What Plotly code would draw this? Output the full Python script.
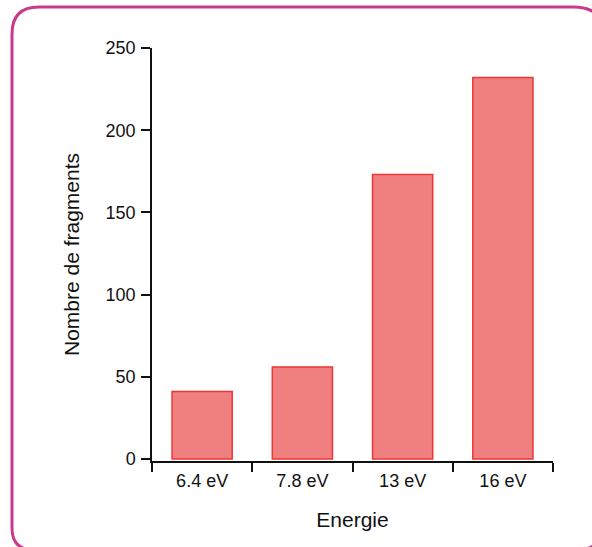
import plotly.graph_objects as go

categories = ["6.4 eV", "7.8 eV", "13 eV", "16 eV"]
fragments = [41, 56, 173, 232]
y_ticks = [0, 50, 100, 150, 200, 250]
x_title = "Energie"
y_title = "Nombre de fragments"

W, H = 592, 547
ML, MR, MT, MB = 152, 39, 48, 86
PW, PH = W - ML - MR, H - MT - MB


def px(x):
    return (x - ML) / PW


def py(y):
    return (H - MB - y) / PH


# rounded frame around the figure (pixel coords -> paper coords)
L, T, R, B = 12, 7, 606, 550
r_tl, r_tr, r_br, r_bl = 27, 33, 31, 22
path = (
    f"M {px(L)},{py(T + r_tl)} Q {px(L)},{py(T)} {px(L + r_tl)},{py(T)} "
    f"L {px(R - r_tr)},{py(T)} Q {px(R)},{py(T)} {px(R)},{py(T + r_tr)} "
    f"L {px(R)},{py(B - r_br)} Q {px(R)},{py(B)} {px(R - r_br)},{py(B)} "
    f"L {px(L + r_bl)},{py(B)} Q {px(L)},{py(B)} {px(L)},{py(B - r_bl)} Z"
)

fig = go.Figure(
    go.Bar(
        x=categories,
        y=fragments,
        width=0.6,
        marker=dict(color="#F08080", line=dict(color="#F03535", width=1.5)),
    )
)

font = "Liberation Sans, Arial, sans-serif"
fig.update_layout(
    width=W,
    height=H,
    margin=dict(l=ML, r=MR, t=MT, b=MB, pad=0),
    paper_bgcolor="white",
    plot_bgcolor="white",
    showlegend=False,
    font=dict(family=font, size=18, color="#111"),
    shapes=[
        dict(
            type="path",
            path=path,
            xref="paper",
            yref="paper",
            line=dict(color="#C93A8C", width=3),
            fillcolor="rgba(0,0,0,0)",
            layer="above",
        )
    ],
)
fig.update_xaxes(
    range=[-0.5, 3.5],
    showline=True,
    linecolor="#111",
    linewidth=1.5,
    showgrid=False,
    zeroline=False,
    ticks="outside",
    tickson="boundaries",
    ticklen=9,
    tickwidth=1.5,
    tickcolor="#111",
    tickfont=dict(size=18),
    ticklabelstandoff=3,
    title=dict(text=x_title, font=dict(size=21), standoff=22),
)
fig.update_yaxes(
    range=[-1.2, 250],
    tickvals=y_ticks,
    showline=True,
    linecolor="#111",
    linewidth=1.5,
    showgrid=False,
    zeroline=False,
    ticks="outside",
    ticklen=9,
    tickwidth=1.5,
    tickcolor="#111",
    tickfont=dict(size=18),
    ticklabelstandoff=2,
    title=dict(text=y_title, font=dict(size=21), standoff=20),
)

clip_js = """
document.documentElement.style.overflow = 'hidden';
document.body.style.margin = '0px';
document.body.style.overflow = 'hidden';
var gd = document.querySelector('.plotly-graph-div');
gd.style.overflow = 'hidden';
document.querySelectorAll('.main-svg').forEach(function (s) { s.style.overflow = 'hidden'; });
"""

fig.write_html(
    "out.html",
    config={"displayModeBar": False},
    post_script=clip_js,
)
